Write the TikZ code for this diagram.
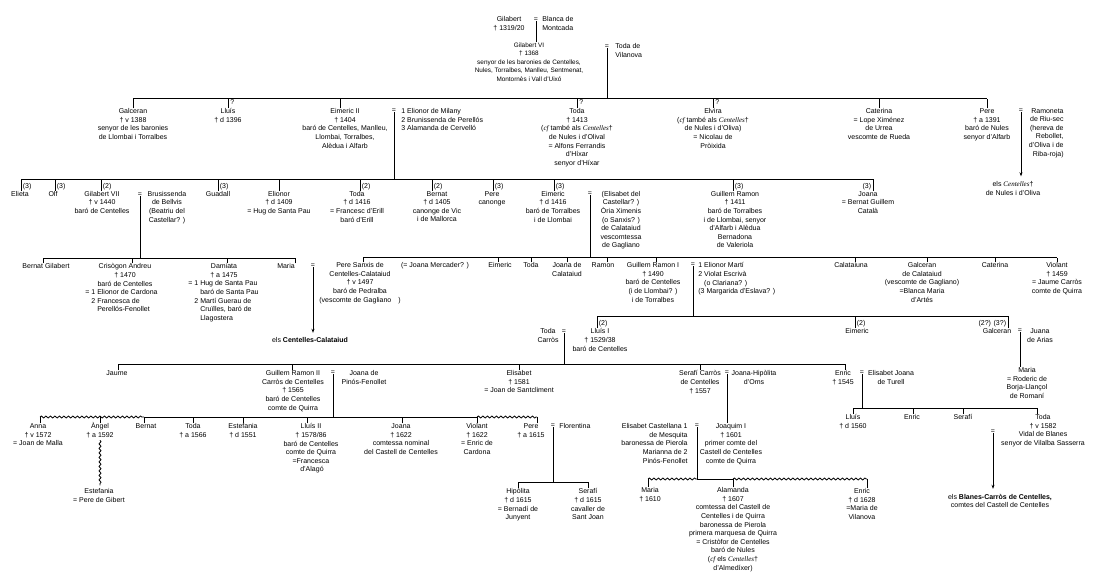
\documentclass[tikz,border=0pt]{standalone}
\usepackage{fontspec}
\setmainfont{Liberation Sans}
\newfontfamily\serifit{Liberation Serif}
\usetikzlibrary{decorations.pathmorphing,arrows.meta}
\newcommand\fontA{\fontsize{7}{8.6}\selectfont}
\newcommand\fontB{\fontsize{6.4}{8.5}\selectfont}
\newcommand\ita[1]{{\serifit\itshape #1}}
\newcommand\tkk[3][0]{\draw ([xshift=#1pt]#2.north) -- ([xshift=#1pt]#2.north |- #3);}
\newcommand\eqd[2]{\draw ([yshift=1.2pt]#1.south) -- (#1.south |- #2);}
\begin{document}
\begin{tikzpicture}[x=1pt,y=-1pt,line width=0.8pt,
 pers/.style={anchor=north,align=center,inner sep=0pt,font=\fontA,yshift=2.7pt},
 persl/.style={pers,anchor=north west,align=left},
 persr/.style={pers,anchor=north east,align=right},
 eqs/.style={inner sep=0pt,font=\fontA},
 lbl/.style={anchor=west,inner sep=0pt,font=\fontA},
 lblr/.style={anchor=east,inner sep=0pt,font=\fontA},
 wavy/.style={decorate,decoration={snake,amplitude=1pt,segment length=4.5pt}},
 arr/.style={-{Stealth[length=4pt,width=3pt]}}]
\path[fill=white] (0,0) rectangle (1100,587);
\useasboundingbox (0,0) rectangle (1100,587);

% ---------- generation 0 / 1
\node[pers] (gilabert) at (509,19) {Gilabert\\† 1319/20};
\node[eqs] (eq0) at (536,20) {=};
\node[persl] (blanca) at (542,19) {Blanca de\\Montcada};
\node[pers,font=\fontB] (gvi) at (529,45) {Gilabert VI\\† 1368\\senyor de les baronies de Centelles,\\Nules, Torralbes, Manlleu, Sentmenat,\\Montornès i Vall d’Uixó};
\eqd{eq0}{gvi.north}
\node[eqs] (eq1) at (607,47) {=};
\node[persl] (todaV) at (615,46) {Toda de\\Vilanova};
\coordinate (b1L) at (133,98.5); \coordinate (b1R) at (987,98.5);
\draw (b1L) -- (b1R);
\eqd{eq1}{b1L}

% ---------- generation 2
\node[pers] (galceran) at (133,111) {Galceran\\† v 1388\\senyor de les baronies\\de Llombai i Torralbes};
\node[pers] (lluis) at (228,111) {Lluís\\† d 1396};
\node[lbl] at (230,102) {?};
\node[pers] (eimericII) at (345,111) {Eimeric II\\† 1404\\baró de Centelles, Manlleu,\\Llombai, Torralbes,\\Alèdua i Alfarb};
\node[eqs] (eqE2) at (394,111) {=};
\node[persl] (wivesE2) at (401,111) {1 Elionor de Milany\\2 Brunissenda de Perellós\\3 Alamanda de Cervelló};
\node[pers] (toda2) at (577,111) {Toda\\† 1413\\(\ita{cf} també als \ita{Centelles}†\\de Nules i d’Olival\\= Alfons Ferrandis\\d’Híxar\\senyor d’Híxar};
\node[lbl] at (579,102) {?};
\node[pers] (elvira) at (713,111) {Elvira\\(\ita{cf} també als \ita{Centelles}†\\de Nules i d’Oliva)\\= Nicolau de\\Pròixida};
\node[lbl] at (715,102) {?};
\node[pers] (caterina) at (879,111) {Caterina\\= Lope Ximénez\\de Urrea\\vescomte de Rueda};
\node[pers] (pere2) at (987,111) {Pere\\† a 1391\\baró de Nules\\senyor d’Alfarb};
\node[eqs] (eqR) at (1021,111) {=};
\node[persr] (ramoneta) at (1064,110.5) {Ramoneta\\de Riu-sec\\(hereva de\\Rebollet,\\d’Oliva i de\\Riba-roja)};
\node[pers] (nulesO) at (1013,184) {els \ita{Centelles}†\\de Nules i d’Oliva};
\draw[arr] ([yshift=1.2pt]eqR.south) -- ([yshift=5pt]eqR.south |- nulesO.north);
\tkk{galceran}{b1L} \tkk{lluis}{b1L} \tkk[-5]{eimericII}{b1L} \tkk{toda2}{b1L}
\tkk{elvira}{b1L} \tkk{caterina}{b1L} \tkk{pere2}{b1L}

% ---------- generation 3
\coordinate (b2L) at (21,179); \coordinate (b2R) at (873,179);
\draw (b2L) -- (b2R);
\eqd{eqE2}{b2L}
\node[pers] (elieta) at (20,193.5) {Elieta};
\node[lbl] at (22.5,186.5) {(3)};
\node[pers] (olf) at (53,193.5) {Olf};
\node[lbl] at (56.5,186.5) {(3)};
\node[pers] (gvii) at (102,193.5) {Gilabert VII\\† v 1440\\baró de Centelles};
\node[lbl] at (102.5,186.5) {(2)};
\node[eqs] (eqG7) at (140,195) {=};
\node[pers] (brus) at (167,193.5) {Brusissenda\\de Bellvis\\(Beatriu del\\Castellar? )};
\node[pers] (guadall) at (218,193.5) {Guadall};
\node[lbl] at (219.5,186.5) {(3)};
\node[pers] (elionor) at (279,193.5) {Elionor\\† d 1409\\= Hug de Santa Pau};
\node[pers] (toda3) at (357,193.5) {Toda\\† d 1416\\= Francesc d’Erill\\baró d’Erill};
\node[lbl] at (361.5,186.5) {(2)};
\node[pers] (bernat3) at (437,193.5) {Bernat\\† d 1405\\canonge de Vic\\i de Mallorca};
\node[lbl] at (433.5,186.5) {(2)};
\node[pers] (pere3) at (492,193.5) {Pere\\canonge};
\node[lbl] at (494.5,186.5) {(3)};
\node[pers] (eimeric3) at (553,193.5) {Eimeric\\† d 1416\\baró de Torralbes\\i de Llombai};
\node[lbl] at (555.5,186.5) {(3)};
\node[eqs] (eqO) at (590,194) {=};
\node[pers] (oria) at (621,193.5) {(Elisabet del\\Castellar? )\\Òria Ximenis\\(o Sanxis? )\\de Calataiud\\vescomtessa\\de Gagliano};
\node[pers] (guillem3) at (735,193.5) {Guillem Ramon\\† 1411\\baró de Torralbes\\i de Llombai, senyor\\d’Alfarb i Alèdua\\Bernadona\\de Valeriola};
\node[lbl] at (734.5,186.5) {(3)};
\node[pers] (joana3) at (868,193.5) {Joana\\= Bernat Guillem\\Català};
\node[lblr] at (871.5,186.5) {(3)};
\tkk[1]{elieta}{b2L} \tkk[2]{olf}{b2L} \tkk[-1]{gvii}{b2L} \tkk{guadall}{b2L}
\tkk{elionor}{b2L} \tkk[3]{toda3}{b2L} \tkk[-5]{bernat3}{b2L} \tkk[1]{pere3}{b2L}
\tkk[1]{eimeric3}{b2L} \tkk[-2]{guillem3}{b2L} \tkk[5]{joana3}{b2L}

% ---------- generation 4 (Gilabert VII)
\coordinate (b3aL) at (43,258); \coordinate (b3aR) at (295,258);
\draw (b3aL) -- (b3aR);
\eqd{eqG7}{b3aL}
\node[pers] (bernatG) at (46,266) {Bernat Gilabert};
\node[pers] (crisogon) at (125,266) {Crisògon Andreu\\† 1470\\baró de Centelles};
\node[persl] (crisW) at (85,291.8) {= 1 Elionor de Cardona\\\phantom{= }2 Francesca de\\\phantom{= 2 }Perellós-Fenollet};
\node[pers] (damiata) at (224,266) {Damiata\\† a 1475};
\node[persl] (damW) at (188,283.2) {= 1 Hug de Santa Pau\\\phantom{= 1 }baró de Santa Pau\\\phantom{= }2 Martí Guerau de\\\phantom{= 2 }Cruïlles, baró de\\\phantom{= 2 }Llagostera};
\node[pers] (mariaG) at (286,266) {Maria};
\node[eqs] (eqM) at (313,266) {=};
\node[pers] (cc) at (310,339.5) {els \textbf{Centelles-Calataiud}};
\draw[arr] ([yshift=1.2pt]eqM.south) -- ([yshift=4pt]eqM.south |- cc.north);
\tkk[-3]{bernatG}{b3aL} \tkk[7]{crisogon}{b3aL} \tkk[3]{damiata}{b3aL} \tkk[9]{mariaG}{b3aL}

% ---------- generation 4 (Eimeric)
\coordinate (b3bL) at (363,257.5); \coordinate (b3bR) at (1057,257.5);
\draw (b3bL) -- (b3bR);
\eqd{eqO}{b3bL}
\node[pers] (pereS) at (360,265) {Pere Sanxis de\\Centelles-Calataiud\\† v 1497\\baró de Pedralba\\(vescomte de Gagliano\quad)};
\node[pers] (joanaM) at (435,265) {(= Joana Mercader? )};
\node[pers] (eimeric4) at (500,265) {Eimeric};
\node[pers] (toda4) at (531,265) {Toda};
\node[pers] (joanaC) at (567,265) {Joana de\\Calataiud};
\node[pers] (ramon4) at (603,265) {Ramon};
\node[pers] (guillemI) at (653,265) {Guillem Ramon I\\† 1490\\baró de Centelles\\(i de Llombai? )\\i de Torralbes};
\node[eqs] (eqGI) at (693,265) {=};
\node[persl] (wivesGI) at (698,265) {1 Elionor Martí\\2 Violat Escrivà\\\phantom{2 }(o Clariana? )\\(3 Margarida d’Eslava? )};
\node[pers] (calataiuna) at (851,265) {Calataiuna};
\node[pers] (galceran4) at (922,265) {Galceran\\de Calataiud\\(vescomte de Gagliano)\\=Blanca Maria\\d’Artés};
\node[pers] (caterina4) at (995,265) {Caterina};
\node[pers] (violant4) at (1057,265) {Violant\\† 1459\\= Jaume Carròs\\comte de Quirra};
\tkk[3]{pereS}{b3bL} \tkk[-2]{eimeric4}{b3bL} \tkk{toda4}{b3bL} \tkk{joanaC}{b3bL}
\tkk[4]{ramon4}{b3bL} \tkk[3]{guillemI}{b3bL} \tkk[4]{calataiuna}{b3bL}
\tkk[5]{galceran4}{b3bL} \tkk{caterina4}{b3bL} \tkk{violant4}{b3bL}

% ---------- generation 5
\coordinate (b4L) at (597,316); \coordinate (b4R) at (1008,316);
\draw (b4L) -- (b4R);
\eqd{eqGI}{b4L}
\node[pers] (lluisI) at (600,331) {Lluís I\\† 1529/38\\baró de Centelles};
\node[lbl] at (598.5,323.5) {(2)};
\node[pers] (todaC) at (548,331) {Toda\\Carròs};
\node[eqs] (eqT) at (564,332) {=};
\node[pers] (eimeric5) at (857,331) {Eimeric};
\node[lbl] at (856.5,323.5) {(2)};
\node[pers] (galceran5) at (997,331) {Galceran};
\node[lblr] at (1006.5,323.5) {(2?) (3?)};
\node[eqs] (eqGal) at (1020,331) {=};
\node[pers] (juana) at (1040,331) {Juana\\de Arias};
\node[pers] (mariaR) at (1027,370) {Maria\\= Roderic de\\Borja-Llançol\\de Romaní};
\eqd{eqGal}{mariaR.north}
\tkk[-3]{lluisI}{b4L} \tkk[-2]{eimeric5}{b4L} \tkk[11]{galceran5}{b4L}

% ---------- generation 6
\coordinate (b6L) at (118,364); \coordinate (b6R) at (845,364);
\draw (b6L) -- (b6R);
\eqd{eqT}{b6L}
\node[pers] (jaume) at (117,373) {Jaume};
\node[pers] (guillemII) at (293,373) {Guillem Ramon II\\Carròs de Centelles\\† 1565\\baró de Centelles\\comte de Quirra};
\node[eqs] (eqGII) at (333,373) {=};
\node[pers] (joanaP) at (364,373) {Joana de\\Pinós-Fenollet};
\node[pers] (elisabet6) at (519,373) {Elisabet\\† 1581\\= Joan de Santcliment};
\node[pers] (serafi6) at (700,373) {Serafí Carròs\\de Centelles\\† 1557};
\node[eqs] (eqS) at (727,373) {=};
\node[pers] (joanaH) at (754,373) {Joana-Hipòlita\\d’Oms};
\node[pers] (enric6) at (843,373) {Enric\\† 1545};
\node[eqs] (eqE) at (862,373) {=};
\node[pers] (elisabetJ) at (891,373) {Elisabet Joana\\de Turell};
\tkk[1]{jaume}{b6L} \tkk[-1]{guillemII}{b6L} \tkk{elisabet6}{b6L} \tkk{serafi6}{b6L} \tkk[2]{enric6}{b6L}

% ---------- generation 7 (Guillem Ramon II)
\coordinate (b7a) at (40,417); \coordinate (b7b) at (144,417);
\coordinate (b7c) at (477,417); \coordinate (b7d) at (537,417);
\draw[wavy] (b7a) -- (b7b);
\draw (b7b) -- (b7c);
\draw[wavy] (b7c) -- (b7d);
\eqd{eqGII}{b7b}
\node[pers] (anna) at (38,426) {Anna\\† v 1572\\= Joan de Malla};
\node[pers] (angel) at (100,426) {\smash{À}ngel\\† a 1592};
\node[pers] (estefG) at (99,491) {Estefania\\= Pere de Gibert};
\draw[wavy] ([yshift=-2pt]angel.south) -- ([yshift=3pt]angel.south |- estefG.north);
\node[pers] (bernat7) at (146,426) {Bernat};
\node[pers] (toda7b) at (193,426) {Toda\\† a 1566};
\node[pers] (estef7) at (243,426) {Estefania\\† d 1551};
\node[pers] (lluisII) at (311,426) {Lluís II\\† 1578/86\\baró de Centelles\\comte de Quirra\\=Francesca\\\ d’Alagó};
\node[pers] (joana7) at (401,426) {Joana\\† 1622\\comtessa nominal\\del Castell de Centelles};
\node[pers] (violant7) at (477,426) {Violant\\† 1622\\= Enric de\\Cardona};
\node[pers] (pere7) at (531,426) {Pere\\† a 1615};
\node[eqs] (eqP) at (553,426) {=};
\node[persl] (florentina) at (559,426) {Florentina};
\tkk[2]{anna}{b7a} \tkk{angel}{b7a} \tkk[-2]{bernat7}{b7a} \tkk{toda7b}{b7a}
\tkk{estef7}{b7a} \tkk[-4]{lluisII}{b7a} \tkk[1]{joana7}{b7a} \tkk{violant7}{b7a} \tkk[6]{pere7}{b7a}

% ---------- generation 8 (Pere)
\coordinate (b8pL) at (518,482); \coordinate (b8pR) at (588,482);
\draw (b8pL) -- (b8pR);
\eqd{eqP}{b8pL}
\node[pers] (hipolita) at (518,491) {Hipòlita\\† d 1615\\= Bernadí de\\Junyent};
\node[pers] (serafi8) at (588,491) {Serafí\\† d 1615\\cavaller de\\Sant Joan};
\tkk{hipolita}{b8pL} \tkk{serafi8}{b8pL}

% ---------- generation 7 (Enric)
\coordinate (b7eL) at (853,408); \coordinate (b7eR) at (1037,408);
\draw (b7eL) -- (b7eR);
\eqd{eqE}{b7eL}
\node[pers] (lluis7) at (853,417) {Lluís\\† d 1560};
\node[pers] (enric7) at (912,417) {Enric};
\node[pers] (serafi7) at (963,417) {Serafí};
\node[pers] (toda7) at (1043,417) {Toda\\† v 1582\\Vidal de Blanes\\senyor de Vilalba Sasserra};
\node[eqs] (eqTB) at (993,432) {=};
\node[pers] (blanes) at (1000,496.5) {els \textbf{Blanes-Carròs de Centelles,}\\comtes del Castell de Centelles};
\draw[arr] ([yshift=1.2pt]eqTB.south) -- ([yshift=5pt]eqTB.south |- blanes.north);
\tkk{lluis7}{b7eL} \tkk[1]{enric7}{b7eL} \tkk{serafi7}{b7eL} \tkk[-6]{toda7}{b7eL}

% ---------- generation 7/8 (Joaquim I)
\node[persr] (elisC) at (688,426) {Elisabet Castellana 1\\de Mesquita\\baronessa de Pierola\\Marianna de 2\\Pinós-Fenollet};
\node[eqs] (eqJ) at (697,426) {=};
\node[pers] (joaquim) at (731,426) {Joaquim I\\† 1601\\primer comte del\\Castell de Centelles\\comte de Quirra};
\eqd{eqS}{joaquim.north}
\coordinate (b8a) at (648,479); \coordinate (b8b) at (697,479);
\coordinate (b8c) at (733,479); \coordinate (b8d) at (867,479);
\draw[wavy] (b8a) -- (b8b);
\draw (b8b) -- (b8c);
\draw[wavy] (b8c) -- (b8d);
\eqd{eqJ}{b8b}
\node[pers] (mariaJ) at (650,490) {Maria\\† 1610};
\node[pers] (alamanda) at (733,490) {Alamanda\\† 1607\\comtessa del Castell de\\Centelles i de Quirra\\baronessa de Pierola\\primera marquesa de Quirra\\= Cristòfor de Centelles\\baró de Nules\\(\ita{cf} els \ita{Centelles}†\\d’Almedíxer)};
\node[pers] (enricJ) at (862,491) {Enric\\† d 1628\\=Maria de\\Vilanova};
\tkk[-2]{mariaJ}{b8a} \tkk{alamanda}{b8a} \tkk[5]{enricJ}{b8a}
\end{tikzpicture}
\end{document}
